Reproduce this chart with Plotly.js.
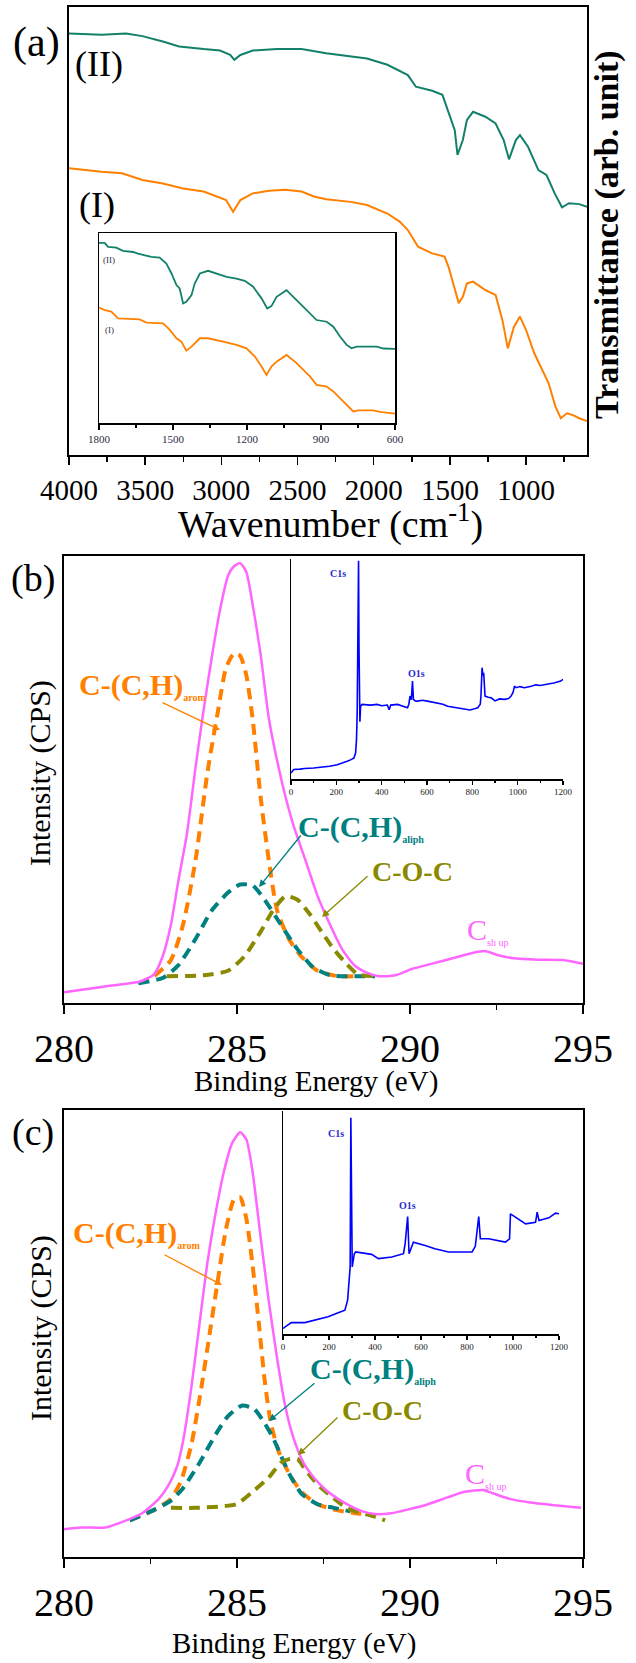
<!DOCTYPE html>
<html>
<head>
<meta charset="utf-8">
<script src="https://cdn.plot.ly/plotly-3.0.1.min.js"></script>
<style>
  body { margin: 0; background: #fff; }
  #chart { width: 636px; height: 1663px; }
</style>
</head>
<body>
<div id="chart"></div>
<script>
// ---- (a) FTIR spectra, wavenumber in cm-1, transmittance in arb. units ----
var ftirWnII = [4000,3786,3625,3518,3384,3277,3116,3009,2942,2915,2875,2794,2634,2473,2312,2178,2044,1910,1776,1723,1616,1549,1509,1468,1450,1415,1388,1348,1267,1200,1147,1112,1067,1040,987,919,866,812,764,718,651,600];
var ftirII = [94.1,93.8,94.1,93.5,92.3,91.2,90.6,90.3,89.3,88.2,89.3,90.3,90.6,90.6,89.7,89.1,88.5,87.1,84.8,82.2,81.3,80.4,76.3,72.5,67.0,70.3,74.8,76.6,75.5,74.0,70.3,66.0,70.3,71.4,68.8,63.6,62.5,58.4,55.3,56.2,56.0,55.4];
var ftirWnI = [4000,3786,3652,3518,3384,3250,3116,2969,2923,2875,2794,2687,2580,2473,2393,2312,2151,2044,1910,1830,1776,1709,1616,1535,1509,1482,1442,1415,1388,1348,1267,1200,1155,1120,1080,1040,1000,946,892,852,807,772,732,692,651,600];
var ftirI = [64.0,63.2,62.9,61.4,60.6,59.5,58.8,56.9,54.3,56.9,58.4,59.0,59.2,58.8,57.7,57.1,56.5,55.8,53.9,52.1,50.2,46.5,45.0,44.3,42.0,38.7,33.9,35.3,38.3,38.7,36.8,35.7,30.1,23.8,28.6,30.9,27.9,22.7,19.0,16.0,10.8,8.2,9.3,8.9,8.2,7.6];

// inset of (a): 1800-600 cm-1
var insetWnII = [1800,1777,1763,1730,1703,1662,1642,1608,1588,1554,1527,1506,1486,1473,1459,1446,1425,1412,1391,1358,1324,1283,1243,1209,1175,1141,1118,1101,1080,1040,999,958,918,877,850,823,796,776,756,674,647,600];
var insetII = [94.8,94.8,92.7,92.3,90.6,90.0,89.2,88.3,87.4,87.1,83.9,78.7,72.6,70.8,62.9,63.8,67.3,73.4,78.7,80.1,78.7,76.9,76.0,74.8,71.7,65.6,60.3,61.5,66.4,69.9,64.7,59.4,54.2,53.3,50.7,45.5,41.1,39.3,40.2,40.2,39.2,39.0];
var insetWnI = [1800,1777,1750,1723,1635,1608,1540,1513,1486,1466,1446,1425,1391,1358,1297,1243,1202,1168,1141,1121,1101,1080,1040,999,945,918,877,850,810,769,749,688,661,600];
var insetI = [60.8,59.4,58.6,55.1,54.5,52.8,52.4,49.0,44.6,42.8,38.1,40.2,44.6,44.6,42.8,41.1,39.3,35.0,29.7,25.3,29.7,32.3,35.8,31.5,24.5,20.1,19.2,16.6,11.4,6.1,6.6,6.6,5.8,4.9];

// ---- (b) C1s high resolution, binding energy in eV ----
var bEnvE = [280,281.08,281.9,282.2,282.6,282.85,283.09,283.3,283.56,283.8,284.03,284.27,284.5,284.74,284.9,285.09,285.27,285.45,285.68,285.92,286.16,286.4,286.63,286.98,287.33,287.69,288.04,288.4,288.75,289.1,289.58,290.05,290.64,291.23,291.8,292.2,292.5,293.0,293.7,294.4,295];
var bEnv = [2.4,3.6,4.4,4.8,6.4,10.4,17.5,27.1,38.2,52.6,65.3,77.3,87.6,95.6,97.6,98.4,96.4,89.2,78.1,63.7,54.2,46.2,39.8,31.9,23.9,17.5,12.0,8.4,6.8,6.0,6.2,7.6,8.8,10.0,11.2,11.6,10.8,10.0,9.7,9.6,8.8];
var bAromE = [282.15,282.6,283.09,283.44,283.8,284.15,284.45,284.68,284.92,285.09,285.27,285.45,285.68,285.92,286.16,286.5,286.86,287.33,287.92,288.5];
var bArom = [4.4,6.0,9.6,17.5,31.9,51.8,65.3,74.9,78.3,77.7,73.3,63.7,46.2,31.9,20.7,14.3,10.4,7.2,6.0,6.0];
var bAliphE = [282.15,282.85,283.3,283.8,284.27,284.74,285.09,285.45,285.8,286.27,286.75,287.2,287.69,288.4,288.99];
var bAliph = [4.4,5.6,8.4,14.3,20.7,24.7,26.5,26.3,23.1,17.5,12.0,8.0,6.2,6.0,6.0];
var bCocE = [282.97,284.03,284.74,285.21,285.68,286.04,286.4,286.75,287.1,287.45,287.8,288.16,288.5,288.99];
var bCoc = [6.0,6.2,7.2,10.4,15.9,20.7,23.9,23.1,19.9,15.9,12.0,8.8,6.4,6.0];
// survey inset of (b)
var surveyBE = [0,12,40,60,100,130,170,204,230,248,265,278,285,289,292,295,298,300,302,304,307,314,350,380,400,425,433,440,470,500,514,520,525,531,536,540,548,558,580,602,640,670,691,720,750,765,790,810,824,835,838,843,847,850,856,870,883,900,920,942,960,971,980,986,993,1010,1030,1060,1080,1100,1119,1140,1160,1178,1190,1200];
var surveyB = [2.7,4.3,4.5,4.8,5.0,5.3,5.8,6.5,7.3,8.1,8.8,9.6,11.9,17.9,30.1,63.5,99.2,60,40,26,33.1,33.9,33.6,33.9,33.3,33.6,31.5,33.6,33.9,33.0,32.4,34,37.7,36,44.5,36.2,35.5,35.4,35.8,35.4,34.6,34.0,33.1,32.6,31.8,31.6,31.4,31.9,32.4,34,37.7,50.6,47,48.3,37.7,37.2,36.9,35.5,36.4,36.2,36.6,37.7,39.5,42.2,41.5,42.0,41.5,42.2,42.8,42.5,43.0,43.3,43.6,44.1,44.5,45.3];

// ---- (c) C1s high resolution ----
var cEnvE = [280,280.5,281.2,281.67,282.26,282.74,283.03,283.27,283.44,283.68,283.92,284.15,284.39,284.62,284.86,285.09,285.27,285.45,285.68,285.92,286.16,286.39,286.63,286.92,287.22,287.57,287.92,288.28,288.63,288.99,289.46,289.93,290.52,291.11,291.58,292.11,292.41,292.88,293.47,294.17,294.94];
var cEnv = [6.2,6.6,6.6,7.8,9.8,13.0,16.2,20.3,25.9,37.9,52.4,66.1,77.3,86.2,92.6,95.0,93.4,86.2,71.7,57.2,44.4,33.9,26.7,21.1,17.8,15.0,13.0,11.4,10.2,9.6,9.8,10.6,11.8,13.4,14.6,15.0,14.2,13.0,12.2,11.6,11.0];
var cAromE = [281.9,282.62,283.09,283.38,283.68,283.97,284.21,284.45,284.68,284.92,285.09,285.27,285.45,285.63,285.8,285.98,286.21,286.51,286.86,287.33,287.8,288.4,288.75];
var cArom = [8.2,10.6,13.0,17.0,25.1,37.9,50.0,62.1,73.3,80.1,80.5,75.7,65.3,52.4,39.5,29.9,23.5,18.6,14.6,11.8,10.6,9.8,9.6];
var cAliphE = [281.9,282.62,283.09,283.44,283.92,284.39,284.74,285.15,285.5,285.8,286.04,286.27,286.51,286.86,287.33,287.8,288.28];
var cAliph = [8.2,10.6,12.6,15.4,21.1,27.5,31.5,33.9,33.1,29.9,26.7,22.7,18.6,14.2,11.8,11.0,10.2];
var cCocE = [283.09,283.8,284.5,284.98,285.45,285.92,286.27,286.51,286.75,286.98,287.33,287.69,288.16,288.63,288.99,289.28];
var cCoc = [11.0,11.0,11.3,11.8,14.6,17.8,21.1,21.9,21.9,19.5,16.2,13.8,11.0,9.8,9.0,8.2];
// survey inset of (c)
var surveyCE = [0,22,36,95,138,196,240,269,281,287,292,295,298,301,310,316,385,415,473,524,531,542,548,567,618,660,720,822,836,851,858,894,967,985,989,1011,1055,1098,1105,1113,1156,1185,1200];
var surveyC = [2.5,4.0,5.1,5.1,6.3,7.7,9.5,10.7,15.2,25.6,30.1,97.0,60,30.1,36.0,36.8,35.7,33.8,34.5,36.0,40.5,52.7,36.0,41.2,39.7,38.2,36.8,36.8,39.3,52.7,42.7,42.7,41.2,42.7,53.9,52.4,49.4,50.1,54.6,50.9,52.1,54.2,53.9];

// tick labels
var ftirTicks = [4000,3500,3000,2500,2000,1500,1000];
var insetTicks = [1800,1500,1200,900,600];
var beTicks = [280,285,290,295];
var surveyTicks = [0,200,400,600,800,1000,1200];

var W = 636, H = 1663;
function px(v) { return v / W; }
function py(v) { return 1 - v / H; }

var serif = "'Liberation Serif', 'Times New Roman', Times, serif";
var green = '#12806a', orange = '#ff8000', pink = '#ff66ff',
    teal = '#008080', olive = '#8a8a00', blue = '#0000ff';

function line(x, y, ax, color, width, dash) {
  return {
    x: x, y: y, xaxis: 'x' + ax, yaxis: 'y' + ax, mode: 'lines',
    line: { color: color, width: width, dash: dash || 'solid' },
    hoverinfo: 'skip'
  };
}

var dashes = '11px,7px';
var data = [
  line(ftirWnII, ftirII, '', green, 2),
  line(ftirWnI, ftirI, '', orange, 2),
  line(insetWnII, insetII, '2', green, 1.8),
  line(insetWnI, insetI, '2', orange, 1.8),

  line(bAromE, bArom, '3', orange, 4, dashes),
  line(bAliphE, bAliph, '3', teal, 4, dashes),
  line(bCocE, bCoc, '3', olive, 4, dashes),
  line(bEnvE, bEnv, '3', pink, 2.5),
  line(surveyBE, surveyB, '4', blue, 1.6),

  line(cAromE, cArom, '5', orange, 4, dashes),
  line(cAliphE, cAliph, '5', teal, 4, dashes),
  line(cCocE, cCoc, '5', olive, 4, dashes),
  line(cEnvE, cEnv, '5', pink, 2.5),
  line(surveyCE, surveyC, '6', blue, 1.6)
];
// fitted curves are smooth
[4,5,6,7,9,10,11,12].forEach(function (i) { data[i].line.shape = 'spline'; data[i].line.smoothing = 0.6; });

var base = { showgrid: false, zeroline: false, showline: true, linecolor: '#000' };

function mainX(anchor, dom, range, vals, minorStep, size, tlen, lw) {
  return Object.assign({}, base, {
    anchor: anchor, domain: dom, range: range, tickmode: 'array', tickvals: vals,
    ticktext: vals.map(String), ticks: 'outside', ticklen: tlen, tickwidth: 1.5, tickcolor: '#000',
    linewidth: lw, mirror: true,
    tickfont: { family: serif, size: size, color: '#000' },
    minor: { dtick: minorStep, tick0: 0, ticks: 'outside', ticklen: Math.round(tlen * 0.6), tickwidth: 1.5, tickcolor: '#000' }
  });
}
function mainY(anchor, dom, lw, mirror) {
  return Object.assign({}, base, {
    anchor: anchor, domain: dom, range: [0, 100], showticklabels: false, ticks: '',
    linewidth: lw, mirror: mirror
  });
}

var xa = mainX('y', [px(69), px(587)], [4000, 600], ftirTicks, 250, 29, 8, 2);
var xa2 = mainX('y2', [px(99), px(395)], [1800, 600], insetTicks, 150, 11, 5, 1.5);
xa2.tickfont.color = '#2a2a44';
var xb = mainX('y3', [px(64), px(583)], [280, 295], beTicks, 2.5, 40, 9, 2);
var xb2 = mainX('y4', [px(291), px(563)], [0, 1200], surveyTicks, 100, 9, 4, 1.5);
xb2.mirror = false; xb2.tickfont.color = '#222';
var xc = mainX('y5', [px(64), px(583)], [280, 295], beTicks, 2.5, 40, 9, 2);
var xc2 = mainX('y6', [px(283), px(559)], [0, 1200], surveyTicks, 100, 9, 4, 1.5);
xc2.mirror = false; xc2.tickfont.color = '#222';

function txt(text, x, y, size, color, opts) {
  return Object.assign({
    text: text, x: px(x), y: py(y), xref: 'paper', yref: 'paper',
    showarrow: false, xanchor: 'center', yanchor: 'middle',
    font: { family: serif, size: size, color: color || '#000' }
  }, opts || {});
}
function arrow(x0, y0, x1, y1, color) {
  return {
    text: '', x: px(x1), y: py(y1), xref: 'paper', yref: 'paper',
    ax: x0 - x1, ay: y0 - y1, showarrow: true, arrowhead: 2, arrowsize: 1.1,
    arrowwidth: 1.3, arrowcolor: color, standoff: 0
  };
}
var sub = function (s) { return '<sub><span style="font-size:10px">' + s + '</span></sub>'; };

var annotations = [
  // panel (a)
  txt('(a)', 36, 42, 42),
  txt('(II)', 73, 64, 36, '#000', { xanchor: 'left' }),
  txt('(I)', 77, 205, 36, '#000', { xanchor: 'left' }),
  txt('(II)', 101, 260, 9, '#334', { xanchor: 'left' }),
  txt('(I)', 103, 330, 9, '#334', { xanchor: 'left' }),
  txt('Wavenumber (cm<sup>-1</sup>)', 330, 521, 38),
  txt('<b>Transmittance (arb. unit)</b>', 607, 235, 34, '#000', { textangle: -90 }),

  // panel (b)
  txt('(b)', 33, 579, 38),
  txt('Intensity (CPS)', 40, 773, 30, '#000', { textangle: -90 }),
  txt('Binding Energy (eV)', 316, 1081, 29),
  txt('<b>C-(C,H)' + sub('arom') + '</b>', 77, 685, 30, orange, { xanchor: 'left' }),
  txt('<b>C-(C,H)' + sub('aliph') + '</b>', 296, 827, 30, teal, { xanchor: 'left' }),
  txt('<b>C-O-C</b>', 412, 871, 28, olive),
  txt('C' + sub('sh up'), 465, 930, 30, pink, { xanchor: 'left' }),
  txt('<b>C1s</b>', 338, 573, 10, '#2b2bd0'),
  txt('<b>O1s</b>', 416, 673, 10, '#2b2bd0'),
  arrow(161, 702, 220, 730, orange),
  arrow(302, 834, 259, 887, teal),
  arrow(369, 875, 322, 917, olive),

  // panel (c)
  txt('(c)', 33, 1132, 38),
  txt('Intensity (CPS)', 41, 1328, 30, '#000', { textangle: -90 }),
  txt('Binding Energy (eV)', 294, 1643, 29),
  txt('<b>C-(C,H)' + sub('arom') + '</b>', 71, 1233, 30, orange, { xanchor: 'left' }),
  txt('<b>C-(C,H)' + sub('aliph') + '</b>', 308, 1369, 30, teal, { xanchor: 'left' }),
  txt('<b>C-O-C</b>', 382, 1410, 28, olive),
  txt('C' + sub('sh up'), 463, 1474, 30, pink, { xanchor: 'left' }),
  txt('<b>C1s</b>', 336, 1133, 10, '#2b2bd0'),
  txt('<b>O1s</b>', 407, 1205, 10, '#2b2bd0'),
  arrow(163, 1254, 222, 1285, orange),
  arrow(316, 1382, 269, 1421, teal),
  arrow(339, 1416, 298, 1455, olive)
];

var layout = {
  width: W, height: H,
  margin: { l: 0, r: 0, t: 0, b: 0 },
  paper_bgcolor: '#fff', plot_bgcolor: 'rgba(0,0,0,0)',
  showlegend: false,
  xaxis: xa, yaxis: mainY('x', [py(455), py(7)], 2, true),
  xaxis2: xa2, yaxis2: mainY('x2', [py(423), py(233)], 1.5, true),
  xaxis3: xb, yaxis3: mainY('x3', [py(1003), py(556)], 2, true),
  xaxis4: xb2, yaxis4: mainY('x4', [py(779), py(559)], 1.5, false),
  xaxis5: xc, yaxis5: mainY('x5', [py(1557), py(1110)], 2, true),
  xaxis6: xc2, yaxis6: mainY('x6', [py(1334), py(1111)], 1.5, false),
  annotations: annotations
};

Plotly.newPlot('chart', data, layout, { staticPlot: true, displayModeBar: false });
</script>
</body>
</html>
